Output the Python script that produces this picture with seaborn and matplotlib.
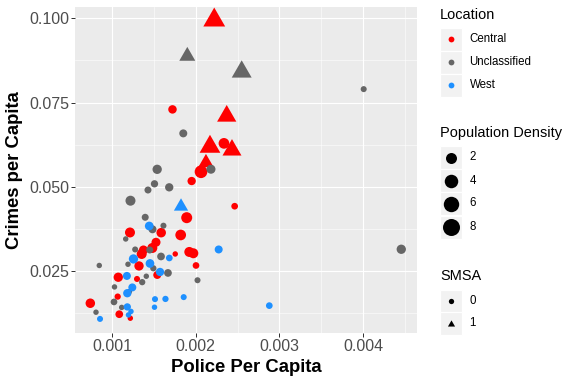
import numpy as np
import pandas as pd
import matplotlib
matplotlib.use("Agg")
import matplotlib.pyplot as plt
import seaborn as sns
from matplotlib.path import Path
from matplotlib.markers import MarkerStyle
from matplotlib.transforms import Affine2D
from matplotlib.patches import Rectangle
from matplotlib.ticker import FixedLocator, FuncFormatter

# ---------------- data ----------------
central_police = [0.002222, 0.002371, 0.002171, 0.002434, 0.002123,
                  0.001723, 0.002338, 0.002064, 0.001952, 0.002466, 0.001893,
                  0.001821, 0.001588, 0.001215, 0.001526, 0.001482, 0.001376,
                  0.001355, 0.001924, 0.001972, 0.001756, 0.002004, 0.001323,
                  0.001541, 0.001075, 0.001299, 0.001068, 0.000741, 0.001087,
                  0.001219]
central_crime = [0.09948, 0.07096, 0.06184, 0.06086, 0.05709,
                 0.07295, 0.06285, 0.05441, 0.05165, 0.04416, 0.04075,
                 0.03561, 0.03629, 0.03635, 0.03344, 0.03174, 0.03115,
                 0.02996, 0.03056, 0.03017, 0.02996, 0.02654, 0.02640,
                 0.02372, 0.02304, 0.02253, 0.01728, 0.01531, 0.01205,
                 0.01086]
central_density = [7.0, 4.79, 6.0, 4.58, 2.27,
                   0.74, 1.81, 3.28, 0.68, 0.29, 2.0,
                   1.81, 1.16, 1.41, 0.94, 1.41, 0.94,
                   1.41, 1.41, 1.41, 0.2, 0.29, 1.07,
                   0.58, 1.07, 0.22, 0.24, 1.16, 0.50,
                   0.2]
central_smsa = [1, 1, 1, 1, 1] + [0] * 25

other_police = [0.001900, 0.002550,
                0.004008, 0.001852, 0.002183, 0.001540, 0.001508, 0.001430,
                0.001684, 0.001221, 0.001397, 0.001484, 0.001615, 0.001164,
                0.001277, 0.001451, 0.001586, 0.000848, 0.001191, 0.001494,
                0.001669, 0.001410, 0.001361, 0.002022, 0.001030, 0.001207,
                0.001024, 0.001116, 0.000809, 0.004457]
other_crime = [0.08879, 0.08412,
               0.07898, 0.06582, 0.05516, 0.05513, 0.05082, 0.04898,
               0.04978, 0.04580, 0.04087, 0.03730, 0.03837, 0.03442,
               0.03130, 0.03115, 0.02922, 0.02654, 0.02690, 0.02571,
               0.02432, 0.02334, 0.02158, 0.02215, 0.02016, 0.01876,
               0.01570, 0.01407, 0.01264, 0.03136]
other_density = [2.64, 5.32,
                 0.22, 0.58, 0.94, 1.07, 0.40, 0.34,
                 0.68, 1.41, 0.34, 0.58, 0.22, 0.2,
                 0.22, 0.34, 0.50, 0.2, 0.2, 0.24,
                 0.50, 0.2, 0.24, 0.22, 0.2, 0.2,
                 0.29, 0.2, 0.2, 1.07]
other_smsa = [1, 1] + [0] * 28

west_police = [0.001825,
               0.002275, 0.001857, 0.002880, 0.001445, 0.001257, 0.001685,
               0.001454, 0.001574, 0.001178, 0.001243, 0.001183, 0.001514,
               0.001639, 0.001508, 0.001183, 0.001227, 0.001197, 0.000857]
west_crime = [0.04407,
              0.03130, 0.01713, 0.01460, 0.03828, 0.02848, 0.02877,
              0.02714, 0.02461, 0.02343, 0.02001, 0.01829, 0.01653,
              0.01659, 0.01413, 0.01422, 0.01288, 0.01184, 0.01065]
west_density = [1.75,
                0.58, 0.22, 0.29, 0.82, 1.07, 0.29,
                0.82, 0.68, 0.58, 0.58, 0.68, 0.22,
                0.24, 0.2, 0.40, 0.2, 0.2, 0.22]
west_smsa = [1] + [0] * 18

location_levels = ["Central", "Unclassified", "West"]
density_breaks = [2, 4, 6, 8]
density_limits = (0.2, 8.8)
smsa_levels = [0, 1]
x_ticks = [0.001, 0.002, 0.003, 0.004]
y_ticks = [0.025, 0.050, 0.075, 0.100]

df = pd.DataFrame({
    "police": central_police + other_police + west_police,
    "crime": central_crime + other_crime + west_crime,
    "density": central_density + other_density + west_density,
    "smsa": central_smsa + other_smsa + west_smsa,
    "location": (["Central"] * len(central_police) + ["Unclassified"] * len(other_police)
                 + ["West"] * len(west_police)),
})

# ---------------- styling ----------------
FONT = ["Liberation Sans", "DejaVu Sans"]
palette = {"Central": "#FF0000", "Unclassified": "#666666", "West": "#1E90FF"}


def point_diam(v):
    lo, hi = density_limits
    return 5.45 + 12.12 * np.sqrt(max(v - lo, 0) / (hi - lo))


size_map = {v: point_diam(v) ** 2 for v in sorted(df["density"].unique())}

tri_path = Path([(0, 0.778), (-0.673, -0.389), (0.673, -0.389), (0, 0.778)],
                [Path.MOVETO, Path.LINETO, Path.LINETO, Path.CLOSEPOLY])
tri_marker = MarkerStyle(tri_path, transform=Affine2D().scale(1.556))
markers = {0: "o", 1: tri_marker}

W, H = 576, 384
fig = plt.figure(figsize=(W / 72, H / 72), dpi=72)
pl, pr, pt, pb = 75, 417, 7, 333
ax = fig.add_axes([pl / W, 1 - pb / H, (pr - pl) / W, (pb - pt) / H])
ax.set_facecolor("#EBEBEB")
for s in ax.spines.values():
    s.set_visible(False)

sns.scatterplot(data=df, x="police", y="crime", hue="location", size="density",
                style="smsa", palette=palette, sizes=size_map, markers=markers,
                hue_order=location_levels, style_order=smsa_levels,
                linewidth=0, edgecolor="none", alpha=1, legend=False, ax=ax, zorder=3)

ax.set_xlim(0.000558, 0.004645)
ax.set_ylim(0.00646, 0.1034)
ax.xaxis.set_major_locator(FixedLocator(x_ticks))
ax.yaxis.set_major_locator(FixedLocator(y_ticks))
ax.xaxis.set_minor_locator(FixedLocator([0.0015, 0.0025, 0.0035, 0.0045]))
ax.yaxis.set_minor_locator(FixedLocator([0.0125, 0.0375, 0.0625, 0.0875]))
ax.xaxis.set_major_formatter(FuncFormatter(lambda v, p: f"{v:.3f}"))
ax.yaxis.set_major_formatter(FuncFormatter(lambda v, p: f"{v:.3f}"))
ax.grid(which="major", color="white", linewidth=1.1, zorder=0)
ax.grid(which="minor", color="white", linewidth=0.55, zorder=0)
ax.set_axisbelow(True)
ax.tick_params(which="major", length=3.7, width=1.0, color="#333333",
               labelsize=16, labelcolor="#4D4D4D", pad=2.4)
ax.tick_params(which="minor", length=0)
for lab in ax.get_xticklabels() + ax.get_yticklabels():
    lab.set_family(FONT)
ax.set_xlabel("")
ax.set_ylabel("")

# axis titles
fig.text(((pl + pr) / 2) / W, 1 - 371.5 / H, "Police Per Capita", ha="center",
         va="baseline", fontsize=18.5, fontweight="bold", family=FONT)
fig.text(19.5 / W, 1 - ((pt + pb) / 2) / H, "Crimes per Capita", ha="center",
         va="baseline", rotation=90, rotation_mode="anchor", fontsize=18.5,
         fontweight="bold", family=FONT)

# ---------------- ggplot-style legends ----------------
lax = fig.add_axes([0, 0, 1, 1], zorder=5)
lax.set_xlim(0, W)
lax.set_ylim(H, 0)
lax.axis("off")
kx0, kw = 440, 22
kcx = kx0 + kw / 2
lab_x = 469.5


def key_box(cy, h):
    lax.add_patch(Rectangle((kx0, cy - h / 2), kw, h, facecolor="#F2F2F2",
                            edgecolor="white", linewidth=1.2))


def title(y, txt):
    lax.text(kx0, y, txt, ha="left", va="center", fontsize=14.5, family=FONT)


def label(y, txt):
    lax.text(lab_x, y, txt, ha="left", va="center", fontsize=11.5, family=FONT)


title(14.7, "Location")
for cy, lev in zip([39, 62, 85], location_levels):
    key_box(cy, 23)
    lax.scatter([kcx], [cy], s=5.8 ** 2, marker="o", color=palette[lev], linewidth=0)
    label(cy, lev)

title(133.3, "Population Density")
for cy, v in zip([157.5, 180.5, 203.5, 227], density_breaks):
    key_box(cy, 23)
    lax.scatter([kcx], [cy], s=point_diam(v) ** 2, marker="o", color="black", linewidth=0)
    label(cy, str(v))

title(276, "SMSA")
for cy, lev in zip([301, 323.5], smsa_levels):
    key_box(cy, 23)
    lax.scatter([kcx], [cy], s=5.3 ** 2, marker=markers[lev], color="black", linewidth=0)
    label(cy, str(lev))

fig.savefig("out.png", dpi=72)
